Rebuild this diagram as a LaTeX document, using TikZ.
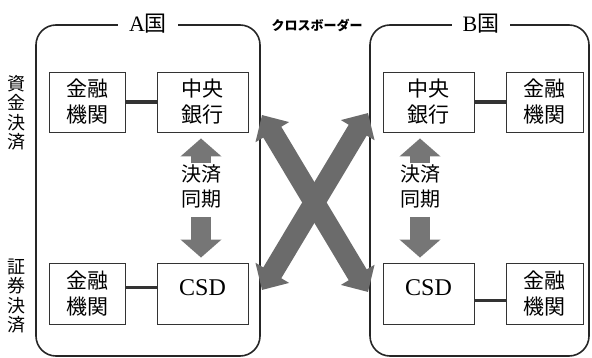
\documentclass[tikz,border=0pt]{standalone}
\usepackage{fontspec}
\setmainfont{Liberation Serif}
\newfontfamily\cjk{Noto Sans CJK JP}
\usetikzlibrary{arrows.meta}
\definecolor{boxline}{HTML}{333333}
\definecolor{arrowgray}{HTML}{767676}
\definecolor{crossgray}{HTML}{6B6B6B}
\tikzset{
  panel/.style={draw=black!85, line width=1.6pt, rounded corners=20pt},
  box/.style={draw=boxline, line width=0.9pt, minimum height=60pt, inner sep=0pt,
    align=center, font=\cjk\fontsize{21}{26}\selectfont},
  plabel/.style={fill=white, inner xsep=11pt, inner ysep=2pt, font=\fontsize{22}{24}\selectfont},
  link/.style={draw=black!80, line width=3.2pt},
  sidelabel/.style={align=center, inner sep=0pt, font=\cjk\fontsize{18}{19.5}\selectfont},
  synctext/.style={align=center, inner sep=1pt, font=\cjk\fontsize{20}{25}\selectfont},
  csdtext/.style={font=\fontsize{24}{26}\selectfont, text depth=12pt},
  varrow/.style={draw=arrowgray, line width=20pt, -{Triangle[width=40pt,length=18pt]}},
  xarrow/.style={draw=crossgray, line width=21pt, {Triangle[width=38pt,length=20pt]}-{Triangle[width=38pt,length=20pt]}}
}
\begin{document}
\begin{tikzpicture}[x=1pt,y=-1pt]
\useasboundingbox (0,0) rectangle (592,358);
% panels
\draw[panel] (36,25) rectangle (260,356);
\draw[panel] (370,25) rectangle (589,356);
\node[plabel] (la) at (148,24) {A{\cjk 国}};
\node[plabel] (lb) at (481,24) {B{\cjk 国}};
\node[font=\cjk\bfseries\fontsize{13}{14}\selectfont, inner sep=1pt] (cb) at (317,25) {クロスボーダー};
% side labels
\node[sidelabel] (s1) at (17,113) {資\\金\\決\\済};
\node[sidelabel] (s2) at (17,296) {証\\券\\決\\済};
% left boxes
\node[box, minimum width=76pt] (fa1) at (87,102) {金融\\機関};
\node[box, minimum width=91pt] (cba) at (202.5,102) {中央\\銀行};
\node[box, minimum width=76pt, minimum height=61pt] (fa2) at (87,293.5) {金融\\機関};
\node[box, csdtext, minimum width=91pt, minimum height=61pt] (csda) at (202.5,293.5) {CSD};
% right boxes
\node[box, minimum width=91pt] (cbb) at (428.5,102) {中央\\銀行};
\node[box, minimum width=77pt] (fb1) at (544.5,102) {金融\\機関};
\node[box, csdtext, minimum width=91pt, minimum height=61pt] (csdb) at (428.5,293.5) {CSD};
\node[box, minimum width=77pt, minimum height=61pt] (fb2) at (544.5,293.5) {金融\\機関};
% links
\draw[link] (fa1.east) -- (cba.west);
\draw[link] ([yshift=6pt]fa2.east) -- ([yshift=6pt]csda.west);
\draw[link] (cbb.east) -- (fb1.west);
\draw[link] ([yshift=-7pt]csdb.east) -- ([yshift=-7pt]fb2.west);
% sync arrows
\node[synctext] (ta) at (201,186) {決済\\同期};
\node[synctext] (tb) at (420,186) {決済\\同期};
\draw[varrow] (ta.north) -- ([yshift=-6pt]cba.south -| ta.north);
\draw[varrow] ([yshift=-8pt]ta.south) -- ([yshift=5pt]csda.north -| ta.south);
\draw[varrow] (tb.north) -- ([yshift=-6pt]cbb.south -| tb.north);
\draw[varrow] ([yshift=-8pt]tb.south) -- ([yshift=5pt]csdb.north -| tb.south);
% cross-border arrows
\coordinate (xtl) at (262,115);
\coordinate (xbr) at (368,292);
\coordinate (xtr) at (368,113);
\coordinate (xbl) at (262,290);
\draw[xarrow] (xtl) -- (xbr);
\draw[xarrow] (xtr) -- (xbl);
\end{tikzpicture}
\end{document}
